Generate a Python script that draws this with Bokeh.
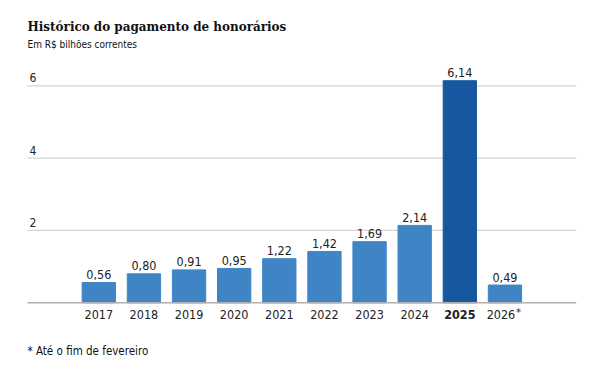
from bokeh.plotting import figure
from bokeh.models import ColumnDataSource, Range1d
from bokeh.core.properties import value
from bokeh.embed import file_html
from bokeh.resources import INLINE

# ---- data ----
years = ["2017", "2018", "2019", "2020", "2021", "2022", "2023", "2024", "2025", "2026"]
values = [0.56, 0.80, 0.91, 0.95, 1.22, 1.42, 1.69, 2.14, 6.14, 0.49]
value_labels = ["0,56", "0,80", "0,91", "0,95", "1,22", "1,42", "1,69", "2,14", "6,14", "0,49"]
highlight = "2025"
y_ticks = [2, 4, 6]
y_tick_labels = ["2", "4", "6"]
title = "Histórico do pagamento de honorários"
subtitle = "Em R$ bilhões correntes"
footnote = "* Até o fim de fevereiro"

LIGHT = "#3f85c6"
DARK = "#1757a0"
SANS = "DejaVu Sans Condensed, Roboto Condensed, Liberation Sans Narrow, Roboto"
SERIF = "DejaVu Serif Condensed, DejaVu Serif"

W, H = 593, 361
X0, X1 = -2.178, 10.962
Y0, Y1 = -1.623, 8.358
GX0, GX1 = -1.58, 10.58
SHIFT = -4  # baseline correction in px

p = figure(width=W, height=H, output_backend="svg", toolbar_location=None,
           x_range=Range1d(X0, X1), y_range=Range1d(Y0, Y1),
           min_border=0, min_border_left=0, min_border_right=0,
           min_border_top=0, min_border_bottom=0)
p.axis.visible = False
p.grid.visible = False
p.outline_line_color = None
p.background_fill_color = "white"
p.border_fill_color = "white"

xs = list(range(len(years)))
colors = [DARK if y == highlight else LIGHT for y in years]
styles = ["bold" if y == highlight else "normal" for y in years]
xoff = [-4 if y == "2026" else 0 for y in years]

src = ColumnDataSource(dict(x=xs, top=values, color=colors, lab=value_labels,
                            year=years, style=styles, xoff=xoff,
                            zero=[0] * len(years)))

# gridlines
p.segment(x0=[GX0] * len(y_ticks), x1=[GX1] * len(y_ticks), y0=y_ticks, y1=y_ticks,
          line_color="#d4d4d4", line_width=1.2)

p.vbar(x="x", top="top", bottom=0, width=0.738, color="color", source=src)

# zero line
p.segment(x0=[GX0], x1=[GX1], y0=[0], y1=[0], line_color="#b0b0b0", line_width=1.4)

# y tick labels
p.text(x=[GX0] * len(y_ticks), y=y_ticks, text=y_tick_labels, x_offset=2, y_offset=-4 + SHIFT,
       text_font=value(SANS), text_font_size="12px", text_color="#222222",
       text_baseline="alphabetic", text_align="left")

# value labels
p.text(x="x", y="top", text="lab", source=src, y_offset=-4 + SHIFT,
       text_font=value(SANS), text_font_size="12.5px", text_color="#222222",
       text_baseline="alphabetic", text_align="center")

# year labels
p.text(x="x", y="zero", text="year", source=src, y_offset=16 + SHIFT, x_offset="xoff",
       text_font=value(SANS), text_font_size="12.5px", text_color="#222222",
       text_font_style="style", text_baseline="alphabetic", text_align="center")
p.text(x=[years.index("2026")], y=[0], text=["*"], x_offset=11, y_offset=14 + SHIFT,
       text_font=value(SANS), text_font_size="11px", text_color="#222222",
       text_baseline="alphabetic", text_align="left")

# titles and footnote
p.text(x=[GX0], y=[7.542], text=[title], y_offset=SHIFT, text_font=value(SERIF),
       text_font_size="13.3px", text_font_style="bold", text_color="#111111",
       text_baseline="alphabetic", text_align="left")
p.text(x=[GX0], y=[7.031], text=[subtitle], y_offset=SHIFT, text_font=value(SANS),
       text_font_size="10px", text_color="#111111", text_baseline="alphabetic",
       text_align="left")
p.text(x=[GX0], y=[-1.457], text=[footnote], y_offset=SHIFT, text_font=value(SANS),
       text_font_size="11.5px", text_color="#111111", text_baseline="alphabetic",
       text_align="left")

open("out.html", "w").write(file_html(p, INLINE))
